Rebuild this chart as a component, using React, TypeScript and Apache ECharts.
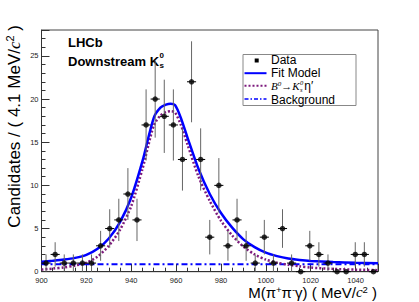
import React, { useEffect, useRef } from "react";
import * as echarts from "echarts";

// ---- data ----
const X_MIN = 900;
const X_MAX = 1050;
const N_BINS = 37;
const BIN_WIDTH = (X_MAX - X_MIN) / N_BINS;

const counts = [
  1, 2, 1, 1, 1, 1, 3, 5, 6, 9, 6, 17, 20, 18, 17, 13, 22, 13, 4, 10, 3, 6, 3, 1,
  4, 1, 5, 1, 0, 3, 2, 1, 0, 0, 2, 2, 0,
];

const curveX = [
  900, 905, 910, 915, 920, 925, 930, 935, 940, 945, 950, 953, 955.5, 957.5, 959.5,
  962, 965, 970, 975, 980, 985, 990, 995, 1000, 1005, 1010, 1015, 1020, 1030, 1040,
  1050,
];
const fitModel = [
  1.16, 1.27, 1.4, 1.6, 1.95, 2.65, 3.85, 5.75, 8.6, 12.8, 17.8, 19.0, 19.35, 19.45,
  19.3, 17.9, 15.6, 11.9, 9.0, 6.8, 5.1, 3.75, 2.85, 2.2, 1.8, 1.52, 1.36, 1.25,
  1.12, 1.04, 0.99,
];
const signal = [
  0.25, 0.36, 0.5, 0.72, 1.05, 1.75, 3.0, 4.85, 7.6, 11.9, 16.9, 18.1, 18.5, 18.6,
  18.45, 17.1, 14.8, 11.0, 8.2, 5.9, 4.2, 2.9, 2.0, 1.4, 1.05, 0.8, 0.62, 0.48,
  0.32, 0.24, 0.18,
];
const backgroundX = [900, 1050];
const background = [0.86, 0.86];

const Y_MIN = 0;
const Y_MAX = 28;
const Y_INTERVAL = 5;
const X_INTERVAL = 20;

const FONT = "'Liberation Sans', Arial, Helvetica, sans-serif";
const SERIF = "'Liberation Serif', 'Times New Roman', serif";
const BLUE = "#0000ff";
const PURPLE = "#7d1a7d";

function measure(text: string, font: string): number {
  const c = document.createElement("canvas").getContext("2d");
  if (!c) return text.length * 6;
  c.font = font;
  return c.measureText(text).width;
}

export default function App() {
  const ref = useRef<HTMLDivElement>(null);

  useEffect(() => {
    if (!ref.current) return;
    const chart = echarts.init(ref.current, null, { renderer: "svg" });

    const centers = counts.map((_, i) => X_MIN + (i + 0.5) * BIN_WIDTH);
    const points = counts.map((c, i) => [centers[i], c]);
    const errs = counts.map((c, i) => [centers[i], c, Math.sqrt(c)]);
    const zip = (xs: number[], ys: number[]) => xs.map((x, i) => [x, ys[i]]);

    // positions for stacked super/subscripts
    const dsW = measure("Downstream K", "bold 13px 'Liberation Sans'");
    const dsX = 68 + dsW + 0.5;
    const bW =
      measure("B", "italic 11px 'Liberation Serif'") +
      measure("0", "italic 7px 'Liberation Serif'") +
      measure("→", "italic 11px 'Liberation Serif'") +
      measure("K", "italic 11px 'Liberation Serif'");
    const legK = 271 + bW + 0.5;
    const etaX = legK + measure("0", "italic 6.5px 'Liberation Serif'") + 1;

    const legText = (text: string, y: number) => ({
      type: "text",
      x: 271,
      y,
      z: 11,
      style: {
        text,
        fontSize: 12,
        lineHeight: 12,
        fontFamily: FONT,
        fill: "#000",
        verticalAlign: "middle",
      },
    });
    const small = (text: string, x: number, y: number) => ({
      type: "text",
      x,
      y,
      z: 11,
      style: {
        text,
        fontSize: 6.5,
        lineHeight: 6.5,
        fontStyle: "italic",
        fontFamily: SERIF,
        fill: "#000",
        verticalAlign: "middle",
      },
    });

    const option: any = {
      animation: false,
      backgroundColor: "#ffffff",
      grid: {
        left: 41.5,
        top: 30,
        width: 336.5,
        height: 241.7,
        show: true,
        borderColor: "#444",
        borderWidth: 1,
        backgroundColor: "transparent",
      },
      xAxis: {
        type: "value",
        min: X_MIN,
        max: X_MAX,
        interval: X_INTERVAL,
        axisLine: { show: true, lineStyle: { color: "#333", width: 1 } },
        axisTick: { show: true, inside: true, length: 8, lineStyle: { color: "#333" } },
        minorTick: { show: true, splitNumber: 4, length: 4, lineStyle: { color: "#333" } },
        splitLine: { show: false },
        axisLabel: {
          show: true,
          margin: 4.5,
          fontSize: 7.5,
          color: "#222",
          fontFamily: FONT,
          showMaxLabel: false,
          formatter: (v: number) => String(v),
        },
      },
      yAxis: {
        type: "value",
        min: Y_MIN,
        max: Y_MAX,
        interval: Y_INTERVAL,
        axisLine: { show: true, lineStyle: { color: "#333", width: 1 } },
        axisTick: { show: true, inside: true, length: 8, lineStyle: { color: "#333" } },
        minorTick: { show: true, splitNumber: 5, length: 4, lineStyle: { color: "#333" } },
        splitLine: { show: false },
        axisLabel: {
          show: true,
          margin: 3,
          fontSize: 7.5,
          color: "#222",
          fontFamily: FONT,
          showMaxLabel: false,
          formatter: (v: number) => String(v),
        },
      },
      series: [
        {
          name: "Background",
          type: "line",
          data: zip(backgroundX, background),
          showSymbol: false,
          lineStyle: { color: BLUE, width: 2, type: [6, 3, 2, 3] },
          z: 2,
        },
        {
          name: "Signal",
          type: "line",
          data: zip(curveX, signal),
          smooth: 0.25,
          showSymbol: false,
          lineStyle: { color: PURPLE, width: 2.5, type: [2, 2] },
          z: 3,
        },
        {
          name: "Fit Model",
          type: "line",
          data: zip(curveX, fitModel),
          smooth: 0.25,
          showSymbol: false,
          lineStyle: { color: BLUE, width: 2.5 },
          z: 4,
        },
        {
          name: "Errors",
          type: "custom",
          data: errs,
          z: 5,
          renderItem: (params: any, api: any) => {
            const x = api.value(0);
            const y = api.value(1);
            const e = api.value(2);
            const p = api.coord([x, y]);
            const lo = api.coord([x, y - e]);
            const hi = api.coord([x, y + e]);
            const l = api.coord([x - BIN_WIDTH / 2, y]);
            const r = api.coord([x + BIN_WIDTH / 2, y]);
            const children: any[] = [
              {
                type: "line",
                shape: { x1: l[0], y1: p[1], x2: r[0], y2: p[1] },
                style: { stroke: "#000", lineWidth: 1 },
              },
            ];
            if (e > 0) {
              children.push({
                type: "line",
                shape: { x1: p[0], y1: lo[1], x2: p[0], y2: hi[1] },
                style: { stroke: "#666", lineWidth: 1 },
              });
            }
            return { type: "group", children };
          },
        },
        {
          name: "Data",
          type: "scatter",
          data: points,
          symbol: "circle",
          symbolSize: 5.5,
          itemStyle: { color: "#000" },
          z: 6,
        },
      ],
      graphic: [
        // y axis title
        {
          type: "text",
          x: 14,
          y: 25,
          rotation: Math.PI / 2,
          style: {
            text: "Candidates / ( 4.1 MeV/{i|c}{sup|2} )",
            fontSize: 17,
            fontFamily: FONT,
            fill: "#000",
            align: "right",
            verticalAlign: "middle",
            rich: {
              i: { fontSize: 17, fontFamily: SERIF, fontStyle: "italic", fill: "#000" },
              sup: { fontSize: 11, fontFamily: FONT, fill: "#000", padding: [0, 0, 8, 0] },
            },
          },
        },
        // x axis title
        {
          type: "text",
          x: 377,
          y: 292.3,
          style: {
            text: "{m|M(π}{sup|+}{m|π}{sup|-}{m|γ) ( MeV/}{i|c}{sup|2}{m| )}",
            fill: "#000",
            align: "right",
            verticalAlign: "middle",
            rich: {
              m: { fontSize: 15, lineHeight: 14, fontFamily: FONT, fill: "#000" },
              i: { fontSize: 15, lineHeight: 14, fontFamily: SERIF, fontStyle: "italic", fill: "#000" },
              sup: { fontSize: 9.5, lineHeight: 9, fontFamily: FONT, fill: "#000", padding: [0, 0, 6, 0] },
            },
          },
        },
        // LHCb labels
        {
          type: "text",
          x: 68,
          y: 42,
          style: { text: "LHCb", fontSize: 13, fontWeight: "bold", fontFamily: FONT, fill: "#000", verticalAlign: "middle" },
        },
        {
          type: "text",
          x: 68,
          y: 61,
          style: { text: "Downstream K", fontSize: 13, fontWeight: "bold", fontFamily: FONT, fill: "#000", verticalAlign: "middle" },
        },
        {
          type: "text",
          x: dsX,
          y: 55.5,
          style: { text: "0", fontSize: 8, lineHeight: 8, fontWeight: "bold", fontFamily: FONT, fill: "#000", verticalAlign: "middle" },
        },
        {
          type: "text",
          x: dsX,
          y: 65.5,
          style: { text: "s", fontSize: 8, lineHeight: 8, fontWeight: "bold", fontFamily: FONT, fill: "#000", verticalAlign: "middle" },
        },
        // legend
        {
          type: "rect",
          shape: { x: 243, y: 54.5, width: 113, height: 51 },
          style: { fill: "#fff", stroke: "#888", lineWidth: 1 },
          z: 10,
        },
        {
          type: "rect",
          shape: { x: 254.7, y: 58.5, width: 4, height: 4 },
          style: { fill: "#000" },
          z: 11,
        },
        {
          type: "line",
          shape: { x1: 244.5, y1: 73.2, x2: 266.5, y2: 73.2 },
          style: { stroke: BLUE, lineWidth: 2 },
          z: 11,
        },
        {
          type: "line",
          shape: { x1: 244.5, y1: 85.7, x2: 266.5, y2: 85.7 },
          style: { stroke: PURPLE, lineWidth: 2, lineDash: [2, 2] },
          z: 11,
        },
        {
          type: "line",
          shape: { x1: 244.5, y1: 99, x2: 266.5, y2: 99 },
          style: { stroke: BLUE, lineWidth: 1.5, lineDash: [4, 2, 1.5, 2] },
          z: 11,
        },
        legText("Data", 60.0),
        legText("Fit Model", 73.2),
        {
          type: "text",
          x: 271,
          y: 86,
          z: 11,
          style: {
            text: "{b|B}{sup|0}{b|→}{b|K}",
            verticalAlign: "middle",
            fill: "#000",
            rich: {
              b: { fontSize: 11, lineHeight: 12, fontStyle: "italic", fontFamily: SERIF, fill: "#000" },
              sup: { fontSize: 7, lineHeight: 7, fontStyle: "italic", fontFamily: SERIF, fill: "#000", padding: [0, 0, 5, 0] },
            },
          },
        },
        small("0", legK, 82.7),
        small("s", legK, 89.3),
        {
          type: "text",
          x: etaX,
          y: 86.2,
          z: 11,
          style: { text: "η′", fontSize: 12, lineHeight: 12, fontFamily: FONT, fill: "#000", verticalAlign: "middle" },
        },
        legText("Background", 99.5),
      ],
    };

    chart.setOption(option);
    return () => chart.dispose();
  }, []);

  return (
    <div
      ref={ref}
      style={{ position: "fixed", left: 0, top: 0, width: 419, height: 302, background: "#fff" }}
    />
  );
}
